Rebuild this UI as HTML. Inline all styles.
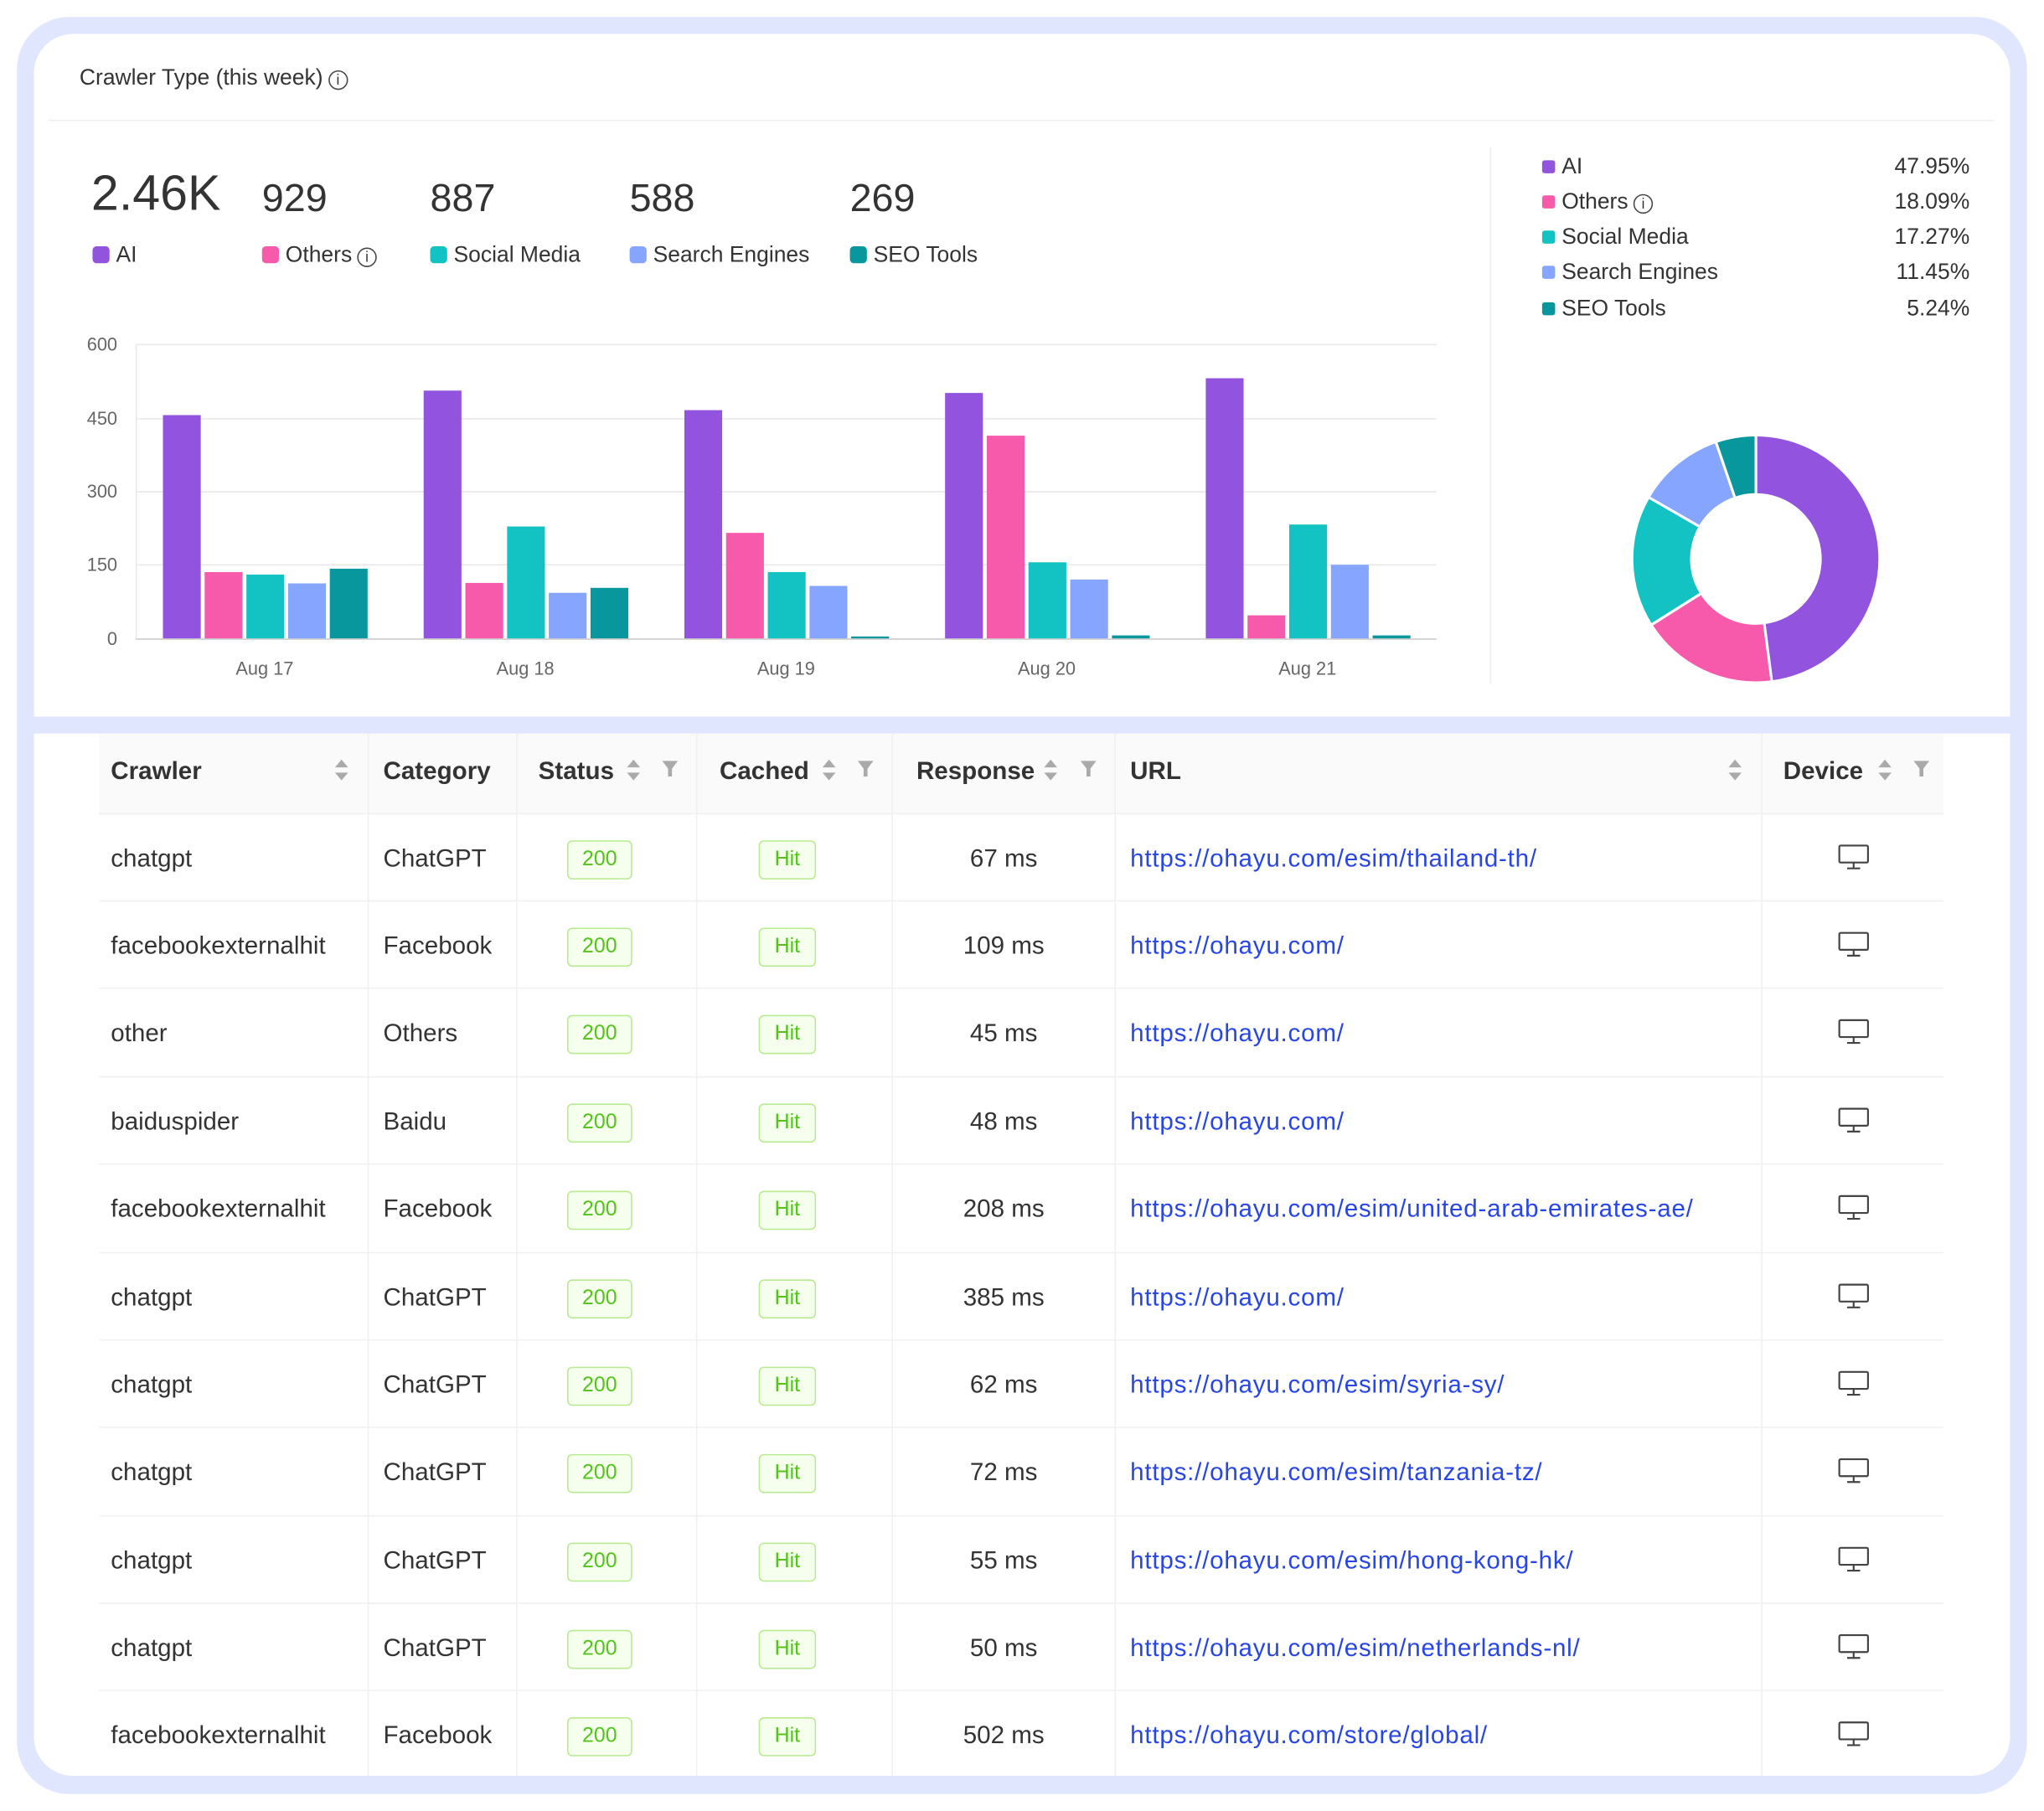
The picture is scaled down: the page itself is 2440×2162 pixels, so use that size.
<!DOCTYPE html>
<html><head><meta charset="utf-8">
<style>
html,body{margin:0;padding:0;background:#fff;}
body{width:2440px;height:2162px;overflow:hidden;position:relative;font-family:"Liberation Sans",sans-serif;color:#333;}
#w{position:absolute;left:0;top:0;width:1568px;height:1390px;transform:scale(1.5561,1.5554);transform-origin:0 0;}
.a{position:absolute;white-space:nowrap;}
.frame{position:absolute;left:13px;top:13px;width:1542px;height:1364px;background:#dfe6fd;border-radius:40px;}
.card1{position:absolute;left:26px;top:26px;width:1516px;height:524px;background:#fff;border-radius:30px 30px 0 0;}
.card2{position:absolute;left:26px;top:563px;width:1516px;height:800px;background:#fff;border-radius:0 0 30px 30px;}
.num{font-size:30px;color:#333;}
.lg{font-size:17px;color:#333;}
.sq{display:inline-block;width:13px;height:13px;border-radius:3px;vertical-align:-1px;margin-right:5px;}
.ss{display:inline-block;width:10px;height:10px;border-radius:2px;margin-right:5px;}
.info{display:inline-block;width:15px;height:15px;border:1.3px solid #444;border-radius:50%;font-size:11px;line-height:14px;text-align:center;vertical-align:0px;margin-left:4px;box-sizing:border-box;}
.th{font-weight:600;font-size:19px;color:#333;}
.td{font-size:19px;color:#333;margin-top:2px;}
.url{font-size:19px;color:#2845e6;margin-top:2px;letter-spacing:0.5px;}
.b{position:absolute;border:1px solid #b7eb8f;background:#f6ffed;color:#52c41a;font-size:16px;text-align:center;border-radius:4px;height:28px;line-height:28px;margin-top:1px;}
</style></head><body><div id="w">
<div class="frame"></div>
<div class="card1"></div>
<div class="card2"></div>

<div class="a" style="left:61px;top:50px;font-size:17px;color:#333;">Crawler Type (this week)<span class="info">i</span></div>
<div class="a" style="left:37px;top:92px;width:1493px;height:1px;background:#eee;"></div>

<div class="a" style="left:70px;top:128px;font-size:38px;color:#333;">2.46K</div>
<div class="a num" style="left:201px;top:136px;">929</div>
<div class="a num" style="left:330px;top:136px;">887</div>
<div class="a num" style="left:483px;top:136px;">588</div>
<div class="a num" style="left:652px;top:136px;">269</div>
<div class="a lg" style="left:71px;top:186px;"><span class="sq" style="background:#9254de"></span>AI</div>
<div class="a lg" style="left:201px;top:186px;"><span class="sq" style="background:#f759ab"></span>Others<span class="info">i</span></div>
<div class="a lg" style="left:330px;top:186px;"><span class="sq" style="background:#13c2c2"></span>Social Media</div>
<div class="a lg" style="left:483px;top:186px;"><span class="sq" style="background:#85a5ff"></span>Search Engines</div>
<div class="a lg" style="left:652px;top:186px;"><span class="sq" style="background:#08979c"></span>SEO Tools</div>

<svg class="a" style="left:0;top:0" width="1568" height="560">
<g stroke="#e8e8e8" stroke-width="1">
<line x1="104" y1="264.5" x2="1102" y2="264.5"/><line x1="104" y1="321.5" x2="1102" y2="321.5"/>
<line x1="104" y1="377.5" x2="1102" y2="377.5"/><line x1="104" y1="433.5" x2="1102" y2="433.5"/>
<line x1="104.5" y1="264" x2="104.5" y2="490" stroke="#e8e8e8"/>
</g>
<line x1="104" y1="490.5" x2="1102" y2="490.5" stroke="#ccc"/>
<line x1="1143.5" y1="113" x2="1143.5" y2="525" stroke="#eee"/>
<g font-family="Liberation Sans" font-size="14" fill="#666" text-anchor="end">
<text x="90" y="269">600</text><text x="90" y="326">450</text><text x="90" y="382">300</text><text x="90" y="438">150</text><text x="90" y="495">0</text>
</g>
<g font-family="Liberation Sans" font-size="14" fill="#666" text-anchor="middle">
<text x="203" y="518">Aug 17</text><text x="403" y="518">Aug 18</text><text x="603" y="518">Aug 19</text><text x="803" y="518">Aug 20</text><text x="1003" y="518">Aug 21</text>
</g>
<g fill="#9254de">
<rect x="125" y="318.6" width="29" height="171.4"/><rect x="325" y="299.8" width="29" height="190.2"/><rect x="525" y="314.8" width="29" height="175.2"/><rect x="725" y="301.6" width="29" height="188.4"/><rect x="925" y="290.3" width="29" height="199.7"/>
</g>
<g fill="#f759ab">
<rect x="157" y="439.1" width="29" height="50.9"/><rect x="357" y="447.4" width="29" height="42.6"/><rect x="557" y="409" width="29" height="81"/><rect x="757" y="334.4" width="29" height="155.6"/><rect x="957" y="472.3" width="29" height="17.7"/>
</g>
<g fill="#13c2c2">
<rect x="189" y="441" width="29" height="49"/><rect x="389" y="404.1" width="29" height="85.9"/><rect x="589" y="439.1" width="29" height="50.9"/><rect x="789" y="431.6" width="29" height="58.4"/><rect x="989" y="402.6" width="29" height="87.4"/>
</g>
<g fill="#85a5ff">
<rect x="221" y="447.8" width="29" height="42.2"/><rect x="421" y="455" width="29" height="35"/><rect x="621" y="449.7" width="29" height="40.3"/><rect x="821" y="444.8" width="29" height="45.2"/><rect x="1021" y="433.5" width="29" height="56.5"/>
</g>
<g fill="#08979c">
<rect x="253" y="436.5" width="29" height="53.5"/><rect x="453" y="451.2" width="29" height="38.8"/><rect x="653" y="488.5" width="29" height="1.5"/><rect x="853" y="487.7" width="29" height="2.3"/><rect x="1053" y="487.7" width="29" height="2.3"/>
</g>
<g transform="translate(1347,429)" stroke="#fff" stroke-width="2">
<path fill="#9254de" d="M0,-95 A95,95 0 0 1 12.2,94.21 L6.36,49.09 A49.5,49.5 0 0 0 0,-49.5 Z"/>
<path fill="#f759ab" d="M12.2,94.21 A95,95 0 0 1 -80.34,50.7 L-41.86,26.42 A49.5,49.5 0 0 0 6.36,49.09 Z"/>
<path fill="#13c2c2" d="M-80.34,50.7 A95,95 0 0 1 -82.35,-47.37 L-42.91,-24.68 A49.5,49.5 0 0 0 -41.86,26.42 Z"/>
<path fill="#85a5ff" d="M-82.35,-47.37 A95,95 0 0 1 -30.72,-89.9 L-16.01,-46.84 A49.5,49.5 0 0 0 -42.91,-24.68 Z"/>
<path fill="#08979c" d="M-30.72,-89.9 A95,95 0 0 1 0,-95 L0,-49.5 A49.5,49.5 0 0 0 -16.01,-46.84 Z"/>
</g>
</svg>

<div class="a lg" style="left:1183px;top:118px;"><span class="ss" style="background:#9254de"></span>AI</div>
<div class="a lg" style="left:1183px;top:145px;"><span class="ss" style="background:#f759ab"></span>Others<span class="info">i</span></div>
<div class="a lg" style="left:1183px;top:172px;"><span class="ss" style="background:#13c2c2"></span>Social Media</div>
<div class="a lg" style="left:1183px;top:199px;"><span class="ss" style="background:#85a5ff"></span>Search Engines</div>
<div class="a lg" style="left:1183px;top:227px;"><span class="ss" style="background:#08979c"></span>SEO Tools</div>
<div class="a lg" style="left:1400px;width:111px;text-align:right;top:118px;">47.95%</div>
<div class="a lg" style="left:1400px;width:111px;text-align:right;top:145px;">18.09%</div>
<div class="a lg" style="left:1400px;width:111px;text-align:right;top:172px;">17.27%</div>
<div class="a lg" style="left:1400px;width:111px;text-align:right;top:199px;">11.45%</div>
<div class="a lg" style="left:1400px;width:111px;text-align:right;top:227px;">5.24%</div>

<!-- table -->
<div class="a" style="left:76px;top:563px;width:1415px;height:61px;background:#fafafa;border-bottom:1px solid #f0f0f0;"></div>
<svg class="a" style="left:0;top:0" width="1568" height="1390">
<g stroke="#f0f0f0" stroke-width="1">
<line x1="282.5" y1="563" x2="282.5" y2="1363"/><line x1="396.5" y1="563" x2="396.5" y2="1363"/><line x1="534.5" y1="563" x2="534.5" y2="1363"/>
<line x1="684.5" y1="563" x2="684.5" y2="1363"/><line x1="855.5" y1="563" x2="855.5" y2="1363"/><line x1="1351.5" y1="563" x2="1351.5" y2="1363"/>
<line x1="76" x2="1491" y1="691.5" y2="691.5"/><line x1="76" x2="1491" y1="758.5" y2="758.5"/><line x1="76" x2="1491" y1="826.5" y2="826.5"/>
<line x1="76" x2="1491" y1="893.5" y2="893.5"/><line x1="76" x2="1491" y1="961.5" y2="961.5"/><line x1="76" x2="1491" y1="1028.5" y2="1028.5"/>
<line x1="76" x2="1491" y1="1095.5" y2="1095.5"/><line x1="76" x2="1491" y1="1163.5" y2="1163.5"/><line x1="76" x2="1491" y1="1230.5" y2="1230.5"/>
<line x1="76" x2="1491" y1="1297.5" y2="1297.5"/>
</g>
<defs>
<g id="srt" fill="#aaa"><path d="M-5,-2 L0,-8 L5,-2 Z"/><path d="M-5,2 L0,8 L5,2 Z"/></g>
<g id="flt" fill="#aaa"><path d="M-6,-6 L6,-6 L1.5,0 L1.5,6 L-1.5,6 L-1.5,0 Z"/></g>
<g id="mon" fill="none" stroke="#444" stroke-width="1.4"><rect x="-11" y="-8" width="22" height="13" rx="1"/><line x1="0" y1="5" x2="0" y2="9"/><line x1="-5" y1="9.5" x2="5" y2="9.5"/></g>
</defs>
<use href="#srt" x="262" y="591"/><use href="#srt" x="486" y="591"/><use href="#flt" x="514" y="590"/>
<use href="#srt" x="636" y="591"/><use href="#flt" x="664" y="590"/><use href="#srt" x="806" y="591"/><use href="#flt" x="835" y="590"/>
<use href="#srt" x="1331" y="591"/><use href="#srt" x="1446" y="591"/><use href="#flt" x="1474" y="590"/>
<use href="#mon" x="1422" y="657"/><use href="#mon" x="1422" y="724"/><use href="#mon" x="1422" y="791"/><use href="#mon" x="1422" y="859"/>
<use href="#mon" x="1422" y="926"/><use href="#mon" x="1422" y="994"/><use href="#mon" x="1422" y="1061"/><use href="#mon" x="1422" y="1128"/>
<use href="#mon" x="1422" y="1196"/><use href="#mon" x="1422" y="1263"/><use href="#mon" x="1422" y="1330"/>
</svg>
<div class="a th" style="left:85px;top:582px;">Crawler</div>
<div class="a th" style="left:294px;top:582px;">Category</div>
<div class="a th" style="left:413px;top:582px;">Status</div>
<div class="a th" style="left:552px;top:582px;">Cached</div>
<div class="a th" style="left:703px;top:582px;">Response</div>
<div class="a th" style="left:867px;top:582px;">URL</div>
<div class="a th" style="left:1368px;top:582px;">Device</div>

<div class="a td" style="left:85px;top:647px;">chatgpt</div><div class="a td" style="left:294px;top:647px;">ChatGPT</div><div class="b" style="left:435px;top:644px;width:48px;">200</div><div class="b" style="left:582px;top:644px;width:42px;">Hit</div><div class="a td" style="left:700px;width:140px;text-align:center;top:647px;">67 ms</div><div class="a url" style="left:867px;top:647px;">https://ohayu.com/esim/thailand-th/</div>
<div class="a td" style="left:85px;top:714px;">facebookexternalhit</div><div class="a td" style="left:294px;top:714px;">Facebook</div><div class="b" style="left:435px;top:711px;width:48px;">200</div><div class="b" style="left:582px;top:711px;width:42px;">Hit</div><div class="a td" style="left:700px;width:140px;text-align:center;top:714px;">109 ms</div><div class="a url" style="left:867px;top:714px;">https://ohayu.com/</div>
<div class="a td" style="left:85px;top:781px;">other</div><div class="a td" style="left:294px;top:781px;">Others</div><div class="b" style="left:435px;top:778px;width:48px;">200</div><div class="b" style="left:582px;top:778px;width:42px;">Hit</div><div class="a td" style="left:700px;width:140px;text-align:center;top:781px;">45 ms</div><div class="a url" style="left:867px;top:781px;">https://ohayu.com/</div>
<div class="a td" style="left:85px;top:849px;">baiduspider</div><div class="a td" style="left:294px;top:849px;">Baidu</div><div class="b" style="left:435px;top:846px;width:48px;">200</div><div class="b" style="left:582px;top:846px;width:42px;">Hit</div><div class="a td" style="left:700px;width:140px;text-align:center;top:849px;">48 ms</div><div class="a url" style="left:867px;top:849px;">https://ohayu.com/</div>
<div class="a td" style="left:85px;top:916px;">facebookexternalhit</div><div class="a td" style="left:294px;top:916px;">Facebook</div><div class="b" style="left:435px;top:913px;width:48px;">200</div><div class="b" style="left:582px;top:913px;width:42px;">Hit</div><div class="a td" style="left:700px;width:140px;text-align:center;top:916px;">208 ms</div><div class="a url" style="left:867px;top:916px;">https://ohayu.com/esim/united-arab-emirates-ae/</div>
<div class="a td" style="left:85px;top:984px;">chatgpt</div><div class="a td" style="left:294px;top:984px;">ChatGPT</div><div class="b" style="left:435px;top:981px;width:48px;">200</div><div class="b" style="left:582px;top:981px;width:42px;">Hit</div><div class="a td" style="left:700px;width:140px;text-align:center;top:984px;">385 ms</div><div class="a url" style="left:867px;top:984px;">https://ohayu.com/</div>
<div class="a td" style="left:85px;top:1051px;">chatgpt</div><div class="a td" style="left:294px;top:1051px;">ChatGPT</div><div class="b" style="left:435px;top:1048px;width:48px;">200</div><div class="b" style="left:582px;top:1048px;width:42px;">Hit</div><div class="a td" style="left:700px;width:140px;text-align:center;top:1051px;">62 ms</div><div class="a url" style="left:867px;top:1051px;">https://ohayu.com/esim/syria-sy/</div>
<div class="a td" style="left:85px;top:1118px;">chatgpt</div><div class="a td" style="left:294px;top:1118px;">ChatGPT</div><div class="b" style="left:435px;top:1115px;width:48px;">200</div><div class="b" style="left:582px;top:1115px;width:42px;">Hit</div><div class="a td" style="left:700px;width:140px;text-align:center;top:1118px;">72 ms</div><div class="a url" style="left:867px;top:1118px;">https://ohayu.com/esim/tanzania-tz/</div>
<div class="a td" style="left:85px;top:1186px;">chatgpt</div><div class="a td" style="left:294px;top:1186px;">ChatGPT</div><div class="b" style="left:435px;top:1183px;width:48px;">200</div><div class="b" style="left:582px;top:1183px;width:42px;">Hit</div><div class="a td" style="left:700px;width:140px;text-align:center;top:1186px;">55 ms</div><div class="a url" style="left:867px;top:1186px;">https://ohayu.com/esim/hong-kong-hk/</div>
<div class="a td" style="left:85px;top:1253px;">chatgpt</div><div class="a td" style="left:294px;top:1253px;">ChatGPT</div><div class="b" style="left:435px;top:1250px;width:48px;">200</div><div class="b" style="left:582px;top:1250px;width:42px;">Hit</div><div class="a td" style="left:700px;width:140px;text-align:center;top:1253px;">50 ms</div><div class="a url" style="left:867px;top:1253px;">https://ohayu.com/esim/netherlands-nl/</div>
<div class="a td" style="left:85px;top:1320px;">facebookexternalhit</div><div class="a td" style="left:294px;top:1320px;">Facebook</div><div class="b" style="left:435px;top:1317px;width:48px;">200</div><div class="b" style="left:582px;top:1317px;width:42px;">Hit</div><div class="a td" style="left:700px;width:140px;text-align:center;top:1320px;">502 ms</div><div class="a url" style="left:867px;top:1320px;">https://ohayu.com/store/global/</div>
</div></body></html>
